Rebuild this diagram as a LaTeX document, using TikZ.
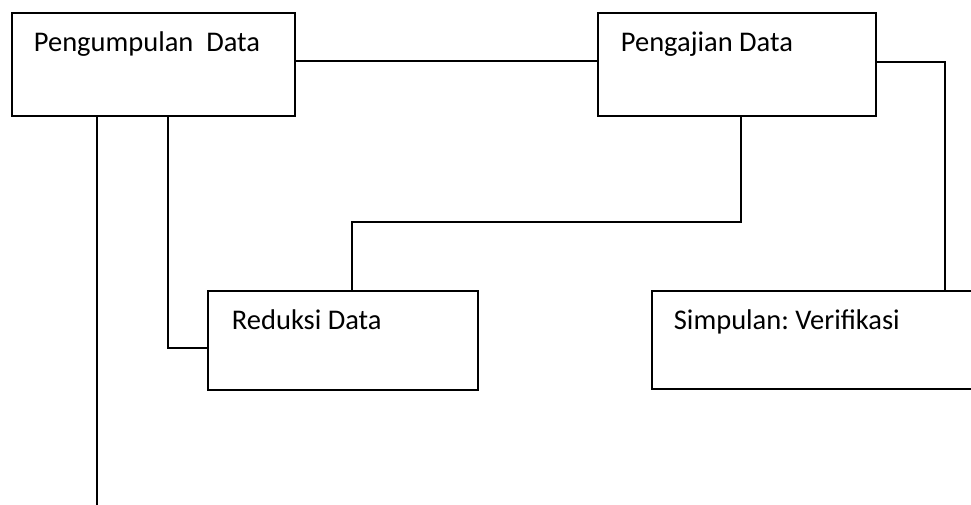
\documentclass[tikz,border=0pt]{standalone}
\usepackage{fontspec}
\setmainfont{Carlito}
\usepackage{tikz}
\usetikzlibrary{positioning}
\frenchspacing

\begin{document}
\begin{tikzpicture}[x=1pt,y=-1pt,line width=1.8pt,
    kotak/.style={draw,rectangle,inner sep=0pt},
    teks/.style={anchor=base west,inner sep=0pt,font=\fontsize{28.5}{32}\selectfont}]
    \clip (0,0) rectangle (971,504);

    \node[kotak,minimum width=283,minimum height=103] at (153.5,64.5) (pd) {};
    \node[teks] at (33,51) (pdtext) {Pengumpulan\ \ Data};

    \node[kotak,minimum width=278,minimum height=103] at (737,64.5) (pj) {};
    \node[teks] at (620,51) (pjtext) {Pengajian Data};

    \node[kotak,minimum width=270,minimum height=99] at (343,340.5) (rd) {};
    \node[teks] at (231,329) (rdtext) {Reduksi Data};

    % kotak kanan terpotong di tepi gambar
    \node[kotak,minimum width=338,minimum height=98] at (821,340) (sv) {};
    \node[teks] at (673,329) (svtext) {Simpulan: Verifikasi};

    \coordinate (belok) at (352,222);
    \coordinate (ujung) at (97,510);

    \draw ([yshift=3.5pt]pd.east) -- ([yshift=3.5pt]pj.west);
    \draw ([yshift=2.5pt]pj.east) -| ([xshift=124pt]sv.north);
    \draw ([xshift=4pt]pj.south) |- (belok) -- (belok |- rd.north);
    \draw ([xshift=14.5pt]pd.south) |- ([yshift=-7.5pt]rd.west);
    \draw ([xshift=-56.5pt]pd.south) -- (ujung);
\end{tikzpicture}
\end{document}
